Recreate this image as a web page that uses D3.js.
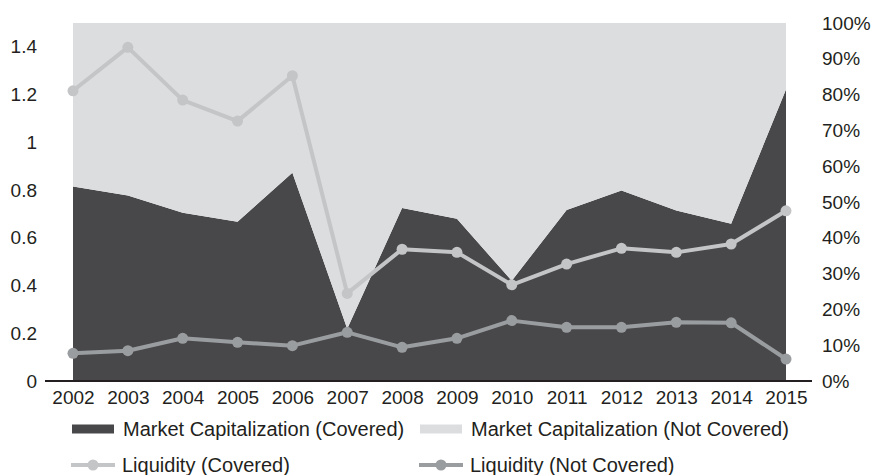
<!DOCTYPE html>
<html>
<head>
<meta charset="utf-8">
<script src="https://cdn.jsdelivr.net/npm/d3@7"></script>
<style>
  body { margin: 0; background: #fff; }
  svg text { font-family: "Liberation Sans", Arial, sans-serif; fill: #231f20; }
</style>
</head>
<body>
<div id="chart"></div>
<script>
var years = ['2002','2003','2004','2005','2006','2007','2008','2009','2010','2011','2012','2013','2014','2015'];
// share of market capitalization covered (right axis, 0-1)
var mcapCovered = [0.543, 0.518, 0.470, 0.445, 0.582, 0.146, 0.483, 0.453, 0.280, 0.478, 0.532, 0.476, 0.439, 0.814];
// liquidity (left axis)
var liqCovered = [1.216, 1.398, 1.177, 1.089, 1.279, 0.367, 0.552, 0.539, 0.403, 0.490, 0.556, 0.539, 0.574, 0.713];
var liqNotCovered = [0.116, 0.127, 0.179, 0.162, 0.148, 0.204, 0.141, 0.179, 0.253, 0.225, 0.225, 0.246, 0.244, 0.092];
var leftTicks = [0, 0.2, 0.4, 0.6, 0.8, 1, 1.2, 1.4];
var rightTicks = [0, 0.1, 0.2, 0.3, 0.4, 0.5, 0.6, 0.7, 0.8, 0.9, 1];

var W = 873, H = 475;
var colDark = '#48484a', colLight = '#dcdddf', colLiqC = '#c4c5c7', colLiqN = '#9a9d9f';

var svg = d3.select('#chart').append('svg').attr('width', W).attr('height', H);

var x = d3.scalePoint().domain(years).range([73, 786]);
var yL = d3.scaleLinear().domain([0, 1.5]).range([381, 23]);
var yR = d3.scaleLinear().domain([0, 1]).range([381, 23]);

var rows = years.map(function(y, i) {
	return {year: y, covered: mcapCovered[i], notCovered: 1 - mcapCovered[i]};
});
var stack = d3.stack().keys(['covered', 'notCovered'])(rows);
var area = d3.area()
	.x(function(d) { return x(d.data.year); })
	.y0(function(d) { return yR(d[0]); })
	.y1(function(d) { return yR(d[1]); });

svg.selectAll('path.area').data(stack).enter().append('path')
	.attr('class', 'area')
	.attr('d', area)
	.attr('fill', function(d, i) { return i == 0 ? colDark : colLight; });

// baseline
svg.append('line').attr('x1', 45).attr('x2', 812).attr('y1', 381).attr('y2', 381)
	.attr('stroke', '#231f20').attr('stroke-width', 2);

var fmtL = function(d) { return d3.format('.1f')(d).replace(/\.0$/, ''); };
var gL = svg.append('g').attr('transform', 'translate(37,0)')
	.call(d3.axisLeft(yL).tickValues(leftTicks).tickSize(0).tickPadding(0).tickFormat(fmtL));
var gR = svg.append('g').attr('transform', 'translate(822,0)')
	.call(d3.axisRight(yR).tickValues(rightTicks).tickSize(0).tickPadding(0).tickFormat(d3.format('.0%')));
var gB = svg.append('g').attr('transform', 'translate(0,381)')
	.call(d3.axisBottom(x).tickSize(0).tickPadding(10));
[gL, gR, gB].forEach(function(g) {
	g.select('.domain').remove();
	g.selectAll('text').style('font-size', '19px').style('fill', '#231f20');
});

// liquidity lines
var lines = [
	{vals: liqCovered, color: colLiqC},
	{vals: liqNotCovered, color: colLiqN}
];
var line = d3.line().x(function(d, i) { return x(years[i]); }).y(function(d) { return yL(d); });
lines.forEach(function(s) {
	svg.append('path').attr('d', line(s.vals)).attr('fill', 'none')
		.attr('stroke', s.color).attr('stroke-width', 4).attr('stroke-linejoin', 'round');
	svg.selectAll(null).data(s.vals).enter().append('circle')
		.attr('cx', function(d, i) { return x(years[i]); })
		.attr('cy', function(d) { return yL(d); })
		.attr('r', 5.5).attr('fill', s.color);
});

// legend
var legend = [
	{label: 'Market Capitalization (Covered)', type: 'rect', color: colDark, x: 72, y: 429},
	{label: 'Market Capitalization (Not Covered)', type: 'rect', color: colLight, x: 420, y: 429},
	{label: 'Liquidity (Covered)', type: 'line', color: colLiqC, x: 71, y: 465},
	{label: 'Liquidity (Not Covered)', type: 'line', color: colLiqN, x: 419, y: 465}
];
legend.forEach(function(l) {
	var g = svg.append('g').attr('transform', 'translate(' + l.x + ',' + l.y + ')');
	if (l.type == 'rect') {
		g.append('rect').attr('x', 0).attr('y', -4.5).attr('width', 42).attr('height', 9).attr('fill', l.color);
	} else {
		g.append('line').attr('x1', 0).attr('x2', 44).attr('y1', 0).attr('y2', 0)
			.attr('stroke', l.color).attr('stroke-width', 4);
		g.append('circle').attr('cx', 22).attr('cy', 0).attr('r', 5.5).attr('fill', l.color);
	}
	g.append('text').attr('x', 51).attr('y', 0).attr('dy', '0.35em')
		.style('font-size', '20px').text(l.label);
});
</script>
</body>
</html>
